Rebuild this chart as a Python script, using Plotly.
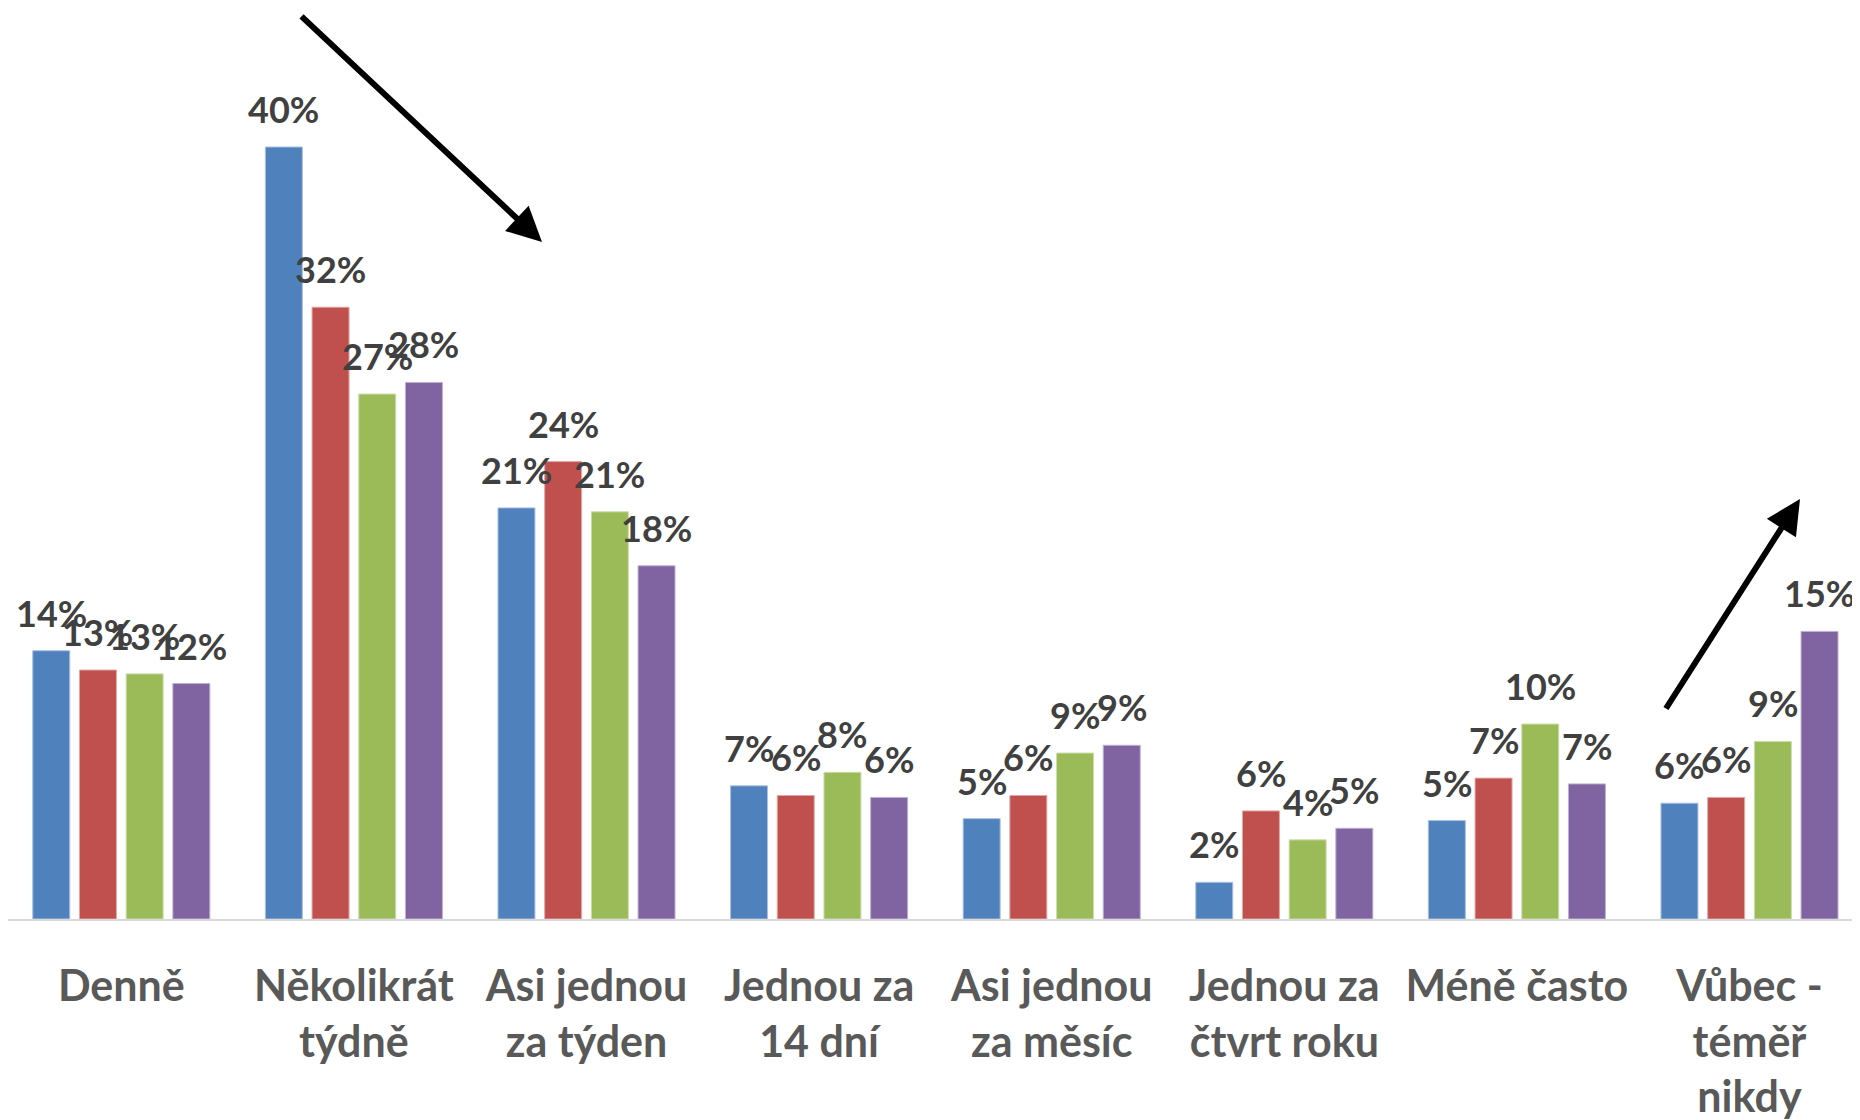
import plotly.graph_objects as go

categories = [
    "Denně",
    "Několikrát<br>týdně",
    "Asi jednou<br>za týden",
    "Jednou za<br>14 dní",
    "Asi jednou<br>za měsíc",
    "Jednou za<br>čtvrt roku",
    "Méně často",
    "Vůbec -<br>téměř<br>nikdy",
]

series_names = ["Řada 1", "Řada 2", "Řada 3", "Řada 4"]
series_1 = [13.9, 40.0, 21.3, 6.9, 5.2, 1.9, 5.1, 6.0]
series_2 = [12.9, 31.7, 23.7, 6.4, 6.4, 5.6, 7.3, 6.3]
series_3 = [12.7, 27.2, 21.1, 7.6, 8.6, 4.1, 10.1, 9.2]
series_4 = [12.2, 27.8, 18.3, 6.3, 9.0, 4.7, 7.0, 14.9]
series_values = [series_1, series_2, series_3, series_4]

colors = ["#4F81BD", "#C0504D", "#9BBB59", "#8064A2"]
edge_colors = ["#A9C0E0", "#E0A8A6", "#CDDDAC", "#BFB1D0"]

# page places the figure at an 8px body offset
OFF = 8
W, H = 1860 - OFF, 1120 - OFF
axis_y = 919          # screen y of the category axis
plot_left_ref = 5     # screen x where category -0.5 starts
ML, MR, MT = 0, 0, 0
plot_w = W - ML - MR
plot_h = axis_y - OFF - MT
MB = H - MT - plot_h
cat_px = 232.6
px_per_pct = 19.3
x_start = -0.5 + (OFF + ML - plot_left_ref) / cat_px

BARGAP = 0.197
BARGROUPGAP = 0.208
FONT = "Lato"

fig = go.Figure()
n_series = len(series_values)
slot = (1 - BARGAP) / n_series
xs = list(range(len(categories)))
for i, (name, vals, c, ec) in enumerate(zip(series_names, series_values, colors, edge_colors)):
    fig.add_trace(go.Bar(
        x=xs,
        y=vals,
        name=name,
        marker=dict(color=c, line=dict(color=ec, width=1)),
        cliponaxis=False,
    ))
    offset = -(1 - BARGAP) / 2 + (i + 0.5) * slot
    for j, v in zip(xs, vals):
        fig.add_annotation(
            x=j + offset, y=v, xref="x", yref="y",
            text=f"{v:.0f}%", showarrow=False,
            xanchor="center", yanchor="bottom", yshift=14,
            font=dict(family=FONT, size=36, color="#404040", weight="bold"),
        )


def to_paper(sx, sy):
    return (sx - OFF - ML) / plot_w, 1 - (sy - OFF - MT) / plot_h


arrows = [((300, 15), (542, 242)), ((1665, 710), (1800, 499))]
for (tx, ty), (hx, hy) in arrows:
    px_, py_ = to_paper(hx, hy)
    fig.add_annotation(
        x=px_, y=py_, xref="paper", yref="paper",
        ax=tx - hx, ay=ty - hy, axref="pixel", ayref="pixel",
        text="", showarrow=True, arrowhead=2, arrowsize=1.15,
        arrowwidth=6, arrowcolor="#000000", standoff=0,
    )

fig.update_layout(
    width=W, height=H,
    margin=dict(l=ML, r=MR, t=MT, b=MB, autoexpand=False),
    paper_bgcolor="white", plot_bgcolor="white",
    barmode="group", bargap=BARGAP, bargroupgap=BARGROUPGAP,
    showlegend=False,
    font=dict(family=FONT),
)
fig.update_xaxes(
    tickmode="array",
    tickvals=xs,
    ticktext=categories,
    range=[x_start, x_start + plot_w / cat_px],
    showline=True, linecolor="#D9D9D9", linewidth=2,
    showgrid=False, zeroline=False, ticks="",
    tickfont=dict(family=FONT, size=43, color="#595959", weight="bold"),
    ticklabelstandoff=28,
)
fig.update_yaxes(
    range=[0, plot_h / px_per_pct],
    visible=False, showgrid=False, zeroline=False,
)

fig.write_html("out.html")
